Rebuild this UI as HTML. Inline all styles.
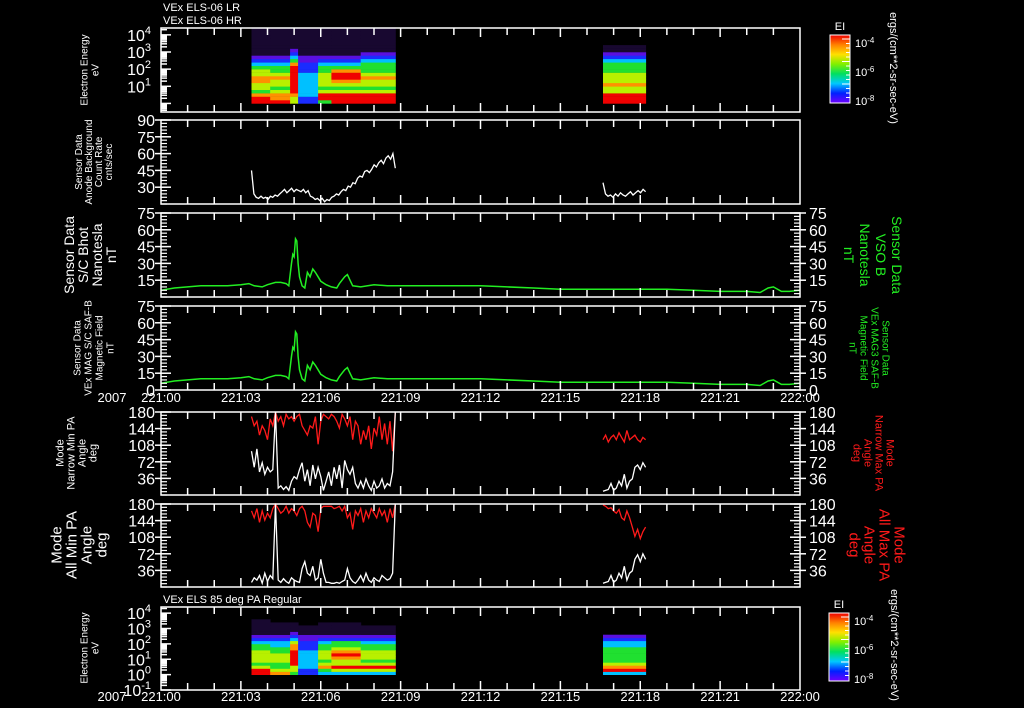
<!DOCTYPE html>
<html><head><meta charset="utf-8"><style>
html,body{margin:0;padding:0;background:#000;}
svg{display:block;font-family:"Liberation Sans",sans-serif;}
</style></head><body>
<svg id="chart" xmlns="http://www.w3.org/2000/svg" width="1024" height="708" viewBox="0 0 1024 708">
<rect x="0" y="0" width="1024" height="708" fill="#000"/>
</svg>
<script>
// ---------- data ----------
const timeTickLabels = ["221:00","221:03","221:06","221:09","221:12","221:15","221:18","221:21","222:00"];
const bgBlock1 = [45,24,21,20,22,20,21,19,22,21,23,22,24,26,28,25,27,29,26,28,27,26,28,25,27,22,21,19,20,18,20,17,19,18,21,22,24,23,26,28,27,31,30,34,33,38,40,39,44,45,43,46,50,48,52,54,51,56,58,55,60,47];
const bgBlock2 = [34,24,22,23,21,24,22,25,23,22,24,26,23,25,27,25,28,26];
const bTimes = [0,0.5,1,1.5,2,2.5,3,3.3,3.5,3.8,4,4.3,4.5,4.7,4.8,4.9,4.95,5.0,5.05,5.1,5.15,5.2,5.3,5.4,5.5,5.6,5.7,5.8,5.9,6.0,6.2,6.4,6.6,6.7,6.8,6.9,7.0,7.1,7.2,7.5,8,8.5,9,9.5,10,10.5,11,11.5,12,13,14,15,16,17,18,19,20,21,22,22.5,22.8,23,23.3,23.6,24];
const bVals = [6,8,9,10,10,10,11,12,10,9,11,13,13,12,10,30,38,36,52,50,30,18,10,8,22,18,25,22,18,14,11,9,8,12,15,18,20,15,10,9,11,10,10,10,10,10,10,10,10,9,8,7,7,7,7,7,6,5,5,4,8,9,5,5,6];
const narrowMin1 = [95,60,100,50,70,45,60,50,55,180,15,20,12,18,10,30,40,35,55,70,30,55,20,65,35,60,40,10,30,50,20,60,35,65,15,75,55,45,60,25,15,30,15,35,20,10,30,15,20,35,15,25,20,50,180];
const narrowMax1 = [170,150,160,130,150,140,120,165,150,180,160,170,150,175,165,170,160,170,175,150,140,130,150,145,170,110,160,175,170,165,175,170,160,145,175,165,150,170,120,160,150,110,140,120,150,100,145,130,170,120,155,110,160,95,180];
const narrowMin2 = [8,10,12,25,10,15,30,20,45,15,30,35,60,65,55,70,60];
const narrowMax2 = [120,130,115,125,130,120,135,125,115,140,120,125,130,120,115,125,120];
const allMin1 = [10,20,15,25,8,30,12,25,18,180,15,10,18,12,8,20,15,12,10,40,55,30,25,45,15,20,60,30,10,10,8,8,10,8,12,15,40,20,12,8,15,25,12,30,15,10,20,15,12,25,20,15,18,30,180];
const allMax1 = [165,150,170,140,165,145,160,150,170,180,170,160,165,175,160,170,165,155,170,175,165,140,130,160,155,120,170,175,175,175,175,170,172,175,165,175,150,160,125,165,155,170,140,165,150,170,160,150,170,155,165,140,170,150,180];
const allMin2 = [8,10,12,25,10,15,30,20,45,15,30,35,60,70,55,72,60];
const allMax2 = [178,175,170,172,165,160,168,150,145,165,150,130,110,125,105,120,130];
// spectrogram energy profiles (level per 0.2-decade bin from 1 eV upward)
const specProfiles = [
 [7,7,6,4,5,5,6,6,5,5,4,3,2,1,0.5,0.5,0.5,0.5,0.5,0.5,0.5,0.5],
 [7,6,6,5,4,5,5,6,5,4,4,3,2,1,0.5,0.5,0.5,0.5,0.5,0.5,0.5,0.5],
 [5,5,6,7,7,7,7,7,7,7,7,6,4,3,2,1,0.5,0.5,0.5,0.5,0.5,0.5],
 [2,2,3,3,3,3,3,3,3,2,2,2,1,1,0.5,0.5,0.5,0.5,0.5,0.5,0.5,0.5],
 [4,7,7,5,4,5,5,5,5,4,4,3,2,1,0.5,0.5,0.5,0.5,0.5,0.5,0.5,0.5],
 [7,7,7,5,4,5,6,7,7,6,4,3,2,1,0.5,0.5,0.5,0.5,0.5,0.5,0.5,0.5],
 [7,7,7,5,4,5,5,6,5,4,4,4,3,2,1,0.5,0.5,0.5,0.5,0.5,0.5,0.5],
 [7,7,7,5,5,6,5,5,5,4,4,4,3,2,1,0.5,0.5,0,0,0,0,0]
];
const specSegStart = [3.4,4.1,4.85,5.15,5.9,6.4,7.5,16.6];
const specSegEnd   = [4.1,4.85,5.15,5.9,6.4,7.5,8.8,18.2];
const pa85Profiles = [
 [7,7,5,4,5,5,5,5,4,4,3,2,1,0.5,0.5,0.5,0.5,0.5,0,0,0,0],
 [6,5,4,4,5,5,5,4,4,3,3,2,1,0.5,0.5,0.5,0.5,0,0,0,0,0],
 [4,5,5,7,7,7,7,7,6,6,5,3,2,1,0.5,0.5,0.5,0,0,0,0,0],
 [2,2,3,3,3,3,3,3,2,2,2,1,1,0.5,0.5,0.5,0,0,0,0,0,0],
 [3,4,6,5,4,5,5,5,4,4,3,2,1,0.5,0.5,0.5,0.5,0,0,0,0,0],
 [3,5,7,5,5,6,7,6,5,4,4,2,1,0.5,0.5,0.5,0.5,0,0,0,0,0],
 [3,5,7,5,4,5,5,5,4,4,3,2,1,0.5,0.5,0.5,0,0,0,0,0,0],
 [3,7,6,5,4,4,4,4,4,3,3,2,1,0,0,0,0,0,0,0,0,0]
];
// ---------- geometry ----------
const svg = document.getElementById('chart');
const NS = "http://www.w3.org/2000/svg";
const X0 = 161, X1 = 800;
function xs(t){ return X0 + t*(X1-X0)/24; }
function linY(p, v){ return p.y1 - (v-p.min)/(p.max-p.min)*(p.y1-p.y0); }
function logY(p, e){ return p.y1 - (Math.log10(e)-p.lmin)/(p.lmax-p.lmin)*(p.y1-p.y0); }
const P1 = {y0:28,y1:112,lmin:-0.5,lmax:4.4};
const P2 = {y0:120,y1:204,min:15,max:90};
const P3 = {y0:213,y1:297,min:0,max:75};
const P4 = {y0:306,y1:390,min:0,max:75};
const P5 = {y0:412,y1:495,min:0,max:180};
const P6 = {y0:504,y1:587,min:0,max:180};
const P7 = {y0:607,y1:690,lmin:-1,lmax:4.4};

function mk(tag, attrs, name, parent){
  const e = document.createElementNS(NS, tag);
  for (const k in attrs) e.setAttribute(k, attrs[k]);
  
  
  (parent||svg).appendChild(e);
  return e;
}
function txt(x,y,s,size,color,name,anchor,rot){
  const a = {x:x,y:y,'font-size':size,fill:color||'#fff','text-anchor':anchor||'middle'};
  if (rot) a.transform = 'rotate('+rot+' '+x+' '+y+')';
  const e = mk('text', a, name);
  e.textContent = s;
  return e;
}
function frame(p, name){
  mk('rect',{x:X0,y:p.y0,width:X1-X0,height:p.y1-p.y0,fill:'none',stroke:'#fff','stroke-width':1.5},name);
}
function timeTicks(p, pre){
  for (let h=1; h<24; h++){
    const L = (h%3===0)?9:7;
    mk('line',{x1:xs(h),x2:xs(h),y1:p.y0,y2:p.y0+L,stroke:'#fff','stroke-width':1.5},pre+'-top-tick');
    mk('line',{x1:xs(h),x2:xs(h),y1:p.y1,y2:p.y1-L,stroke:'#fff','stroke-width':1.5},pre+'-bottom-tick');
  }
}
function linTicks(p, labels, minor, right, pre){
  for (let v=p.min; v<=p.max+0.01; v+=minor){
    const y = linY(p,v);
    mk('line',{x1:X0,x2:X0+6,y1:y,y2:y,stroke:'#fff','stroke-width':1.2},pre+'-minor-tick');
    if (right) mk('line',{x1:X1,x2:X1-6,y1:y,y2:y,stroke:'#fff','stroke-width':1.2},pre+'-minor-tick-right');
  }
  labels.forEach(v=>{
    const y = linY(p,v);
    mk('line',{x1:X0-6,x2:X0+10,y1:y,y2:y,stroke:'#fff','stroke-width':1.5},pre+'-major-tick');
    txt(X0-6,y+6,String(v),16,'#fff',pre+'-tick-label','end');
    if (right){
      mk('line',{x1:X1+6,x2:X1-10,y1:y,y2:y,stroke:'#fff','stroke-width':1.5},pre+'-major-tick-right');
      txt(X1+9,y+6,String(v),16,'#fff',pre+'-tick-label-right','start');
    }
  });
}
function logTicks(p, decades, pre){
  for (let d=Math.floor(p.lmin); d<=Math.ceil(p.lmax); d++){
    for (let m=1; m<10; m++){
      const lv = d+Math.log10(m);
      if (lv<p.lmin||lv>p.lmax) continue;
      const y = p.y1-(lv-p.lmin)/(p.lmax-p.lmin)*(p.y1-p.y0);
      mk('line',{x1:X0,x2:X0+(m===1?10:6),y1:y,y2:y,stroke:'#fff','stroke-width':1.5},pre+'-log-tick');
    }
  }
  decades.forEach(d=>{
    const y = logY(p, Math.pow(10,d));
    const t = mk('text',{x:X0-10,y:y+6,'font-size':16,fill:'#fff','text-anchor':'end'},pre+'-tick-label');
    const b = document.createElementNS(NS,'tspan'); b.textContent='10'; t.appendChild(b);
    const s = document.createElementNS(NS,'tspan'); s.setAttribute('dy','-7'); s.setAttribute('font-size','11'); s.textContent=String(d);
    t.appendChild(s);
  });
}
function poly(vals, t0, t1, p, color, name){
  const n = vals.length;
  const pts = vals.map((v,i)=> xs(t0+(t1-t0)*i/(n-1)).toFixed(1)+','+linY(p,v).toFixed(1)).join(' ');
  mk('polyline',{points:pts,fill:'none',stroke:color,'stroke-width':1.3},name);
}
function polyT(ts, vals, p, color, name){
  const pts = vals.map((v,i)=> xs(ts[i]).toFixed(1)+','+linY(p,v).toFixed(1)).join(' ');
  mk('polyline',{points:pts,fill:'none',stroke:color,'stroke-width':1.5},name);
}
const levelColors = {0.5:'#180830',1:'#5a10e0',2:'#1a2cff',3:'#00c0ff',4:'#20e030',5:'#b8f000',6:'#ff9000',7:'#f00000'};
function spectro(p, profiles, name){
  specSegStart.forEach((s,si)=>{
    const prof = profiles[si];
    prof.forEach((lv,bi)=>{
      if (!lv) return;
      const ya = logY(p, Math.pow(10, bi*0.2));
      const yb = logY(p, Math.pow(10, Math.min(bi*0.2+0.2, p.lmax)));
      mk('rect',{x:xs(s).toFixed(1),y:yb.toFixed(1),width:(xs(specSegEnd[si])-xs(s)+0.5).toFixed(1),height:(ya-yb+0.3).toFixed(1),fill:levelColors[lv]},name);
    });
  });
}
function multiText(x,y,lines,size,color,rot,gap,name){
  lines.forEach((l,i)=>{
    const off = (i-(lines.length-1)/2)*gap;
    if (rot===-90) txt(x+off,y,l,size,color,name,'middle',-90);
    else txt(x-off,y,l,size,color,name,'middle',90);
  });
}
function colorbar(x,y,name){
  const g = mk('defs',{},name+'-defs');
  const lg = mk('linearGradient',{id:name+'-grad',x1:0,y1:1,x2:0,y2:0},name+'-gradient',g);
  ['#7000ff','#0020ff','#00c8ff','#00e060','#80f000','#ffe000','#ff8000','#f00000'].forEach((c,i)=>{
    mk('stop',{offset:(i/7).toFixed(3),'stop-color':c},name+'-stop',lg);
  });
  mk('rect',{x:x,y:y,width:20,height:68,fill:'url(#'+name+'-grad)',stroke:'#fff','stroke-width':1},name);
  for (let i=0;i<14;i++){ const yy=y+4+i*4.5; mk('line',{x1:x+20,x2:x+(i%5===0?12:16),y1:yy,y2:yy,stroke:'#fff','stroke-width':1},name+'-tick'); }
  txt(x+10,y-5,'EI',11,'#fff',name+'-title');
  [['-4',8],['-6',37],['-8',66]].forEach(a=>{
    const t = mk('text',{x:x+25,y:y+a[1]+4,'font-size':11,fill:'#fff','text-anchor':'start'},name+'-label');
    const b=document.createElementNS(NS,'tspan'); b.textContent='10'; t.appendChild(b);
    const s=document.createElementNS(NS,'tspan'); s.setAttribute('dy','-4'); s.setAttribute('font-size','8'); s.textContent=a[0]; t.appendChild(s);
  });
}

// ---------- panel 1 ----------
txt(163,11,'VEx ELS-06 LR',11,'#fff','panel1-title-lr','start');
txt(163,24,'VEx ELS-06 HR',11,'#fff','panel1-title-hr','start');
spectro(P1, specProfiles, 'spectrogram-cell');
frame(P1,'panel1-frame'); timeTicks(P1,'panel1'); logTicks(P1,[1,2,3,4],'panel1');
multiText(93,70,['Electron Energy','eV'],10,'#fff',-90,11,'panel1-y-title');
colorbar(830,35,'colorbar-top');
txt(890,68,'ergs/(cm**2-sr-sec-eV)',11,'#fff','colorbar-top-units','middle',90);

// ---------- panel 2 ----------
poly(bgBlock1,3.4,8.8,P2,'#fff','background-count-line');
poly(bgBlock2,16.6,18.2,P2,'#fff','background-count-line-2');
frame(P2,'panel2-frame'); timeTicks(P2,'panel2'); linTicks(P2,[30,45,60,75,90],3,false,'panel2');
multiText(97,162,['Sensor Data','Anode Background','Count Rate','cnts/sec'],10,'#fff',-90,10,'panel2-y-title');

// ---------- panel 3 ----------
polyT(bTimes,bVals,P3,'#22ee22','bhot-line');
frame(P3,'panel3-frame'); timeTicks(P3,'panel3'); linTicks(P3,[15,30,45,60,75],3,true,'panel3');
multiText(95,255,['Sensor Data','S/C Bhot','Nanotesla','nT'],14,'#fff',-90,14,'panel3-y-title');
multiText(868,255,['Sensor Data','VSO B','Nanotesla','nT'],14,'#22ee22',90,16,'panel3-right-title');

// ---------- panel 4 ----------
polyT(bTimes,bVals,P4,'#22ee22','mag-field-line');
frame(P4,'panel4-frame'); timeTicks(P4,'panel4'); linTicks(P4,[0,15,30,45,60,75],3,true,'panel4');
multiText(97,348,['Sensor Data','VEx MAG S/C SAF-B','Magnetic Field','nT'],10,'#fff',-90,11,'panel4-y-title');
multiText(866,348,['Sensor Data','VEx MAG3 SAF-B','Magnetic Field','nT'],10,'#22ee22',90,11,'panel4-right-title');
txt(112,402,'2007',13,'#fff','year-label-1','middle');
timeTickLabels.forEach((l,i)=>{ txt(xs(i*3),402,l,13,'#fff','time-tick-label'); });

// ---------- panel 5 ----------
poly(narrowMax1,3.4,8.8,P5,'#ff1a1a','narrow-max-pa-line');
poly(narrowMax2,16.6,18.2,P5,'#ff1a1a','narrow-max-pa-line-2');
poly(narrowMin1,3.4,8.8,P5,'#fff','narrow-min-pa-line');
poly(narrowMin2,16.6,18.2,P5,'#fff','narrow-min-pa-line-2');
frame(P5,'panel5-frame'); timeTicks(P5,'panel5'); linTicks(P5,[36,72,108,144,180],7.2,true,'panel5');
multiText(80,453,['Mode','Narrow Min PA','Angle','deg'],11,'#fff',-90,11,'panel5-y-title');
multiText(870,453,['Mode','Narrow Max PA','Angle','deg'],11,'#ff1a1a',90,11,'panel5-right-title');

// ---------- panel 6 ----------
poly(allMax1,3.4,8.8,P6,'#ff1a1a','all-max-pa-line');
poly(allMax2,16.6,18.2,P6,'#ff1a1a','all-max-pa-line-2');
poly(allMin1,3.4,8.8,P6,'#fff','all-min-pa-line');
poly(allMin2,16.6,18.2,P6,'#fff','all-min-pa-line-2');
frame(P6,'panel6-frame'); timeTicks(P6,'panel6'); linTicks(P6,[36,72,108,144,180],7.2,true,'panel6');
multiText(84,545,['Mode','All Min PA','Angle','deg'],15,'#fff',-90,15,'panel6-y-title');
multiText(872,545,['Mode','All Max PA','Angle','deg'],15,'#ff1a1a',90,15,'panel6-right-title');

// ---------- panel 7 ----------
txt(163,603,'VEx ELS 85 deg PA Regular',11,'#fff','panel7-title','start');
spectro(P7, pa85Profiles, 'pa85-spectrogram-cell');
frame(P7,'panel7-frame'); timeTicks(P7,'panel7'); logTicks(P7,[-1,0,1,2,3,4],'panel7');
multiText(93,648,['Electron Energy','eV'],10,'#fff',-90,11,'panel7-y-title');
colorbar(829,613,'colorbar-bottom');
txt(891,645,'ergs/(cm**2-sr-sec-eV)',11,'#fff','colorbar-bottom-units','middle',90);
txt(112,701,'2007',13,'#fff','year-label-2','middle');
timeTickLabels.forEach((l,i)=>{ txt(xs(i*3),701,l,13,'#fff','time-tick-label-bottom'); });
</script>
</body></html>
